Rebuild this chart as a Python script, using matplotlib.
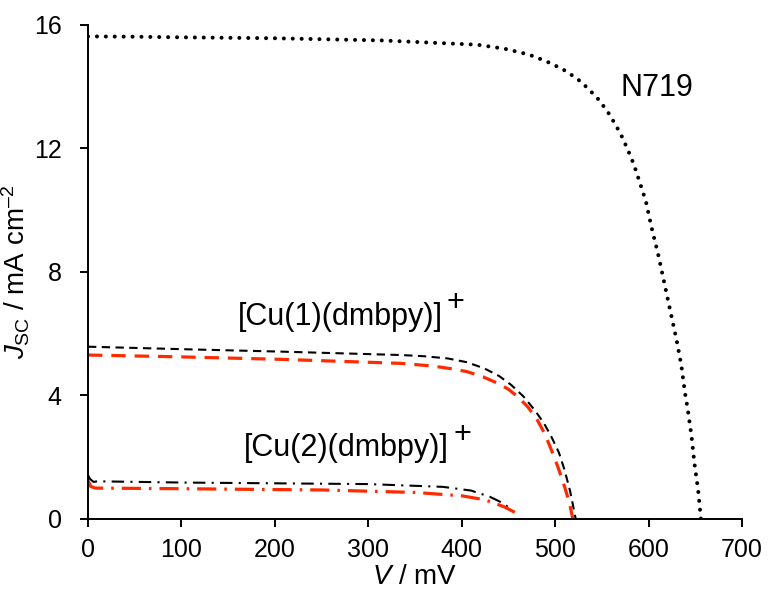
import matplotlib
matplotlib.use("Agg")
import matplotlib.pyplot as plt

plt.rcParams['font.family'] = ['Liberation Sans', 'DejaVu Sans']
plt.rcParams['mathtext.fontset'] = 'custom'
plt.rcParams['mathtext.rm'] = 'Liberation Sans'
plt.rcParams['mathtext.it'] = 'Liberation Sans:italic'

# N719 reference dye
n719_v = [0, 50, 100, 200, 314, 417, 446, 472, 490, 508, 524, 535, 546, 556, 565,
          572, 578, 584, 590, 597, 603, 610, 615, 621, 626, 630, 635, 639, 642, 646,
          649, 653, 656]
n719_j = [15.63, 15.62, 15.6, 15.57, 15.5, 15.36, 15.23, 15.04, 14.83, 14.57, 14.25,
          13.95, 13.6, 13.2, 12.75, 12.35, 11.94, 11.5, 10.95, 10.3, 9.46, 8.6, 7.9,
          7.05, 6.35, 5.79, 4.98, 4.07, 3.53, 2.66, 1.81, 0.94, 0.0]

# [Cu(1)(dmbpy)]+ : two cells
cu1a_v = [0, 100, 207, 335, 360, 385, 405, 424, 440, 453, 466, 478, 488, 496, 504,
          510, 516, 522]
cu1a_j = [5.58, 5.5, 5.42, 5.31, 5.27, 5.2, 5.08, 4.88, 4.63, 4.34, 3.97, 3.53, 3.1,
          2.66, 2.15, 1.59, 0.9, 0.0]
cu1b_v = [0, 100, 207, 335, 370, 390, 406, 423, 439, 450, 460, 471, 481, 489, 496,
          503, 510, 515, 519]
cu1b_j = [5.31, 5.25, 5.17, 5.04, 4.95, 4.86, 4.77, 4.6, 4.39, 4.2, 3.96, 3.62, 3.2,
          2.75, 2.23, 1.68, 1.05, 0.55, 0.0]

# [Cu(2)(dmbpy)]+ : two cells
cu2a_v = [0, 2, 6, 10, 100, 300, 380, 410, 430, 445, 455]
cu2a_j = [1.42, 1.3, 1.2, 1.22, 1.18, 1.13, 1.04, 0.92, 0.72, 0.5, 0.25]
cu2b_v = [0, 3, 8, 100, 250, 350, 400, 425, 445, 461]
cu2b_j = [1.24, 1.05, 1.0, 0.98, 0.94, 0.86, 0.75, 0.62, 0.4, 0.15]

red = '#ff2a00'

fig = plt.figure(figsize=(7.68, 5.99), dpi=100)
ax = fig.add_axes([0.1146, 0.1336, 0.8516, 0.8247])

ax.plot(n719_v, n719_j, color='black', lw=2.9, linestyle=(0, (0.01, 2.2)),
        dash_capstyle='round')
ax.plot(cu1a_v, cu1a_j, color='black', lw=1.5, linestyle=(0, (4, 2.6)))
ax.plot(cu1b_v, cu1b_j, color=red, lw=2.3, linestyle=(0, (4.5, 2.8)))
ax.plot(cu2a_v, cu2a_j, color='black', lw=1.5, linestyle=(0, (6, 3, 1, 3)))
ax.plot(cu2b_v, cu2b_j, color=red, lw=2.3, linestyle=(0, (6, 2.5, 0.8, 2.5)))

# curve labels
ax.text(609, 13.95, 'N719', fontsize=22, ha='center', va='center')
t1 = ax.text(160, 6.55, '[Cu(1)(dmbpy)]', fontsize=22, ha='left', va='center')
ax.annotate('+', xy=(1, 1), xycoords=t1, xytext=(3, -12),
            textcoords='offset points', fontsize=22, ha='left', va='bottom')
t2 = ax.text(167, 2.3, '[Cu(2)(dmbpy)]', fontsize=22, ha='left', va='center')
ax.annotate('+', xy=(1, 1), xycoords=t2, xytext=(3, -12),
            textcoords='offset points', fontsize=22, ha='left', va='bottom')

ax.set_xlim(0, 700)
ax.set_ylim(0, 16)
ax.set_xticks(range(0, 701, 100))
ax.set_yticks([0, 4, 8, 12, 16])
ax.spines['top'].set_visible(False)
ax.spines['right'].set_visible(False)
for s in ['left', 'bottom']:
    ax.spines[s].set_linewidth(1.4)
ax.tick_params(direction='out', length=6, width=1.4, labelsize=18)
ax.tick_params(axis='y', pad=13)
ax.tick_params(axis='x', pad=8)

ax.set_xlabel(r'$\mathit{V}$ / mV', fontsize=20, labelpad=1)
ax.set_ylabel(r'$\mathit{J}_{\mathrm{SC}}$ / mA cm$^{\mathrm{–2}}$', fontsize=20)
ax.yaxis.set_label_coords(-0.085, 0.5)

fig.savefig('out.png', dpi=100)
